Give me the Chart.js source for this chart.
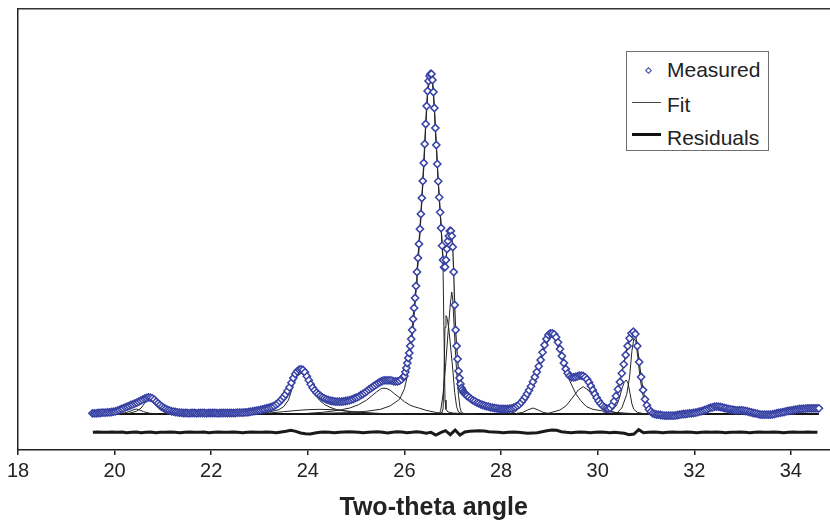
<!DOCTYPE html>
<html>
<head>
<meta charset="utf-8">
<script src="https://cdn.jsdelivr.net/npm/chart.js@4/dist/chart.umd.min.js"></script>
<style>
    body { margin: 0; background: #fff; }
    #wrap { position: relative; width: 830px; height: 523px; }
    #legend {
        position: absolute; left: 626px; top: 51px; width: 141px; height: 98px;
        border: 1px solid #6e6e6e; background: #fff;
        font-family: "Liberation Sans", Arial, sans-serif; font-size: 21px; color: #222;
    }
    #legend span { position: absolute; left: 40px; line-height: 24px; white-space: nowrap; }
    #legend .diamond {
        position: absolute; left: 19px; top: 16px; width: 3px; height: 3px;
        border: 1.2px solid #3a43a6; transform: rotate(45deg);
    }
    #legend .line { position: absolute; left: 5px; width: 29px; }
</style>
</head>
<body>
<div id="wrap">
    <canvas id="chart" width="830" height="523"></canvas>
    <div id="legend">
        <div class="diamond"></div><span style="top:6px">Measured</span>
        <div class="line" style="top:50px;height:1px;background:#444"></div><span style="top:41px">Fit</span>
        <div class="line" style="top:81px;height:3px;background:#111"></div><span style="top:74px">Residuals</span>
    </div>
</div>
<script>
document.addEventListener("DOMContentLoaded", () => {
    // Tick labels on the two-theta axis
    const xTicks = [18, 20, 22, 24, 26, 28, 30, 32, 34];

    // Measured intensity (arbitrary units)
    // 19.54 - 25.98, every 0.04 deg
    const measuredLow = [
        2, 2, 2, 3, 3, 4, 4, 4, 5, 5,
        6, 7, 8, 10, 12, 15, 17, 20, 22, 24,
        27, 29, 32, 34, 37, 40, 43, 46, 48, 50,
        49, 47, 43, 37, 32, 27, 22, 18, 15, 12,
        10, 8, 7, 6, 5, 4, 4, 3, 3, 3,
        2, 3, 3, 3, 2, 3, 3, 3, 3, 2,
        3, 3, 3, 3, 3, 2, 3, 3, 3, 3,
        3, 3, 3, 3, 3, 4, 4, 4, 4, 5,
        5, 6, 7, 8, 9, 10, 11, 12, 14, 15,
        17, 18, 20, 22, 24, 28, 32, 38, 44, 51,
        59, 69, 80, 94, 108, 120, 128, 133, 134, 132,
        125, 113, 101, 89, 79, 71, 64, 59, 54, 50,
        47, 44, 42, 40, 39, 38, 37, 37, 37, 37,
        38, 39, 40, 41, 43, 45, 48, 50, 53, 57,
        60, 64, 68, 73, 77, 81, 85, 89, 93, 96,
        99, 101, 101, 101, 101, 100, 98, 98, 98, 100,
        104, 111
    ];
    // 26.00 - 27.30, every 0.02 deg (main peak and doublet)
    const measuredPeak = [
        114, 126, 138, 153, 168, 183, 204, 225, 252, 285,
        318, 348, 384, 426, 468, 510, 555, 600, 648, 699,
        753, 810, 870, 924, 969, 999, 1014, 1020, 1020, 1002,
        966, 918, 858, 807, 750, 698, 650, 605, 558, 505,
        462, 440, 441, 462, 495, 519, 534, 549, 549, 534,
        501, 426, 327, 252, 204, 165, 129, 108, 90, 78,
        72, 66, 63, 60, 57, 54
    ];
    // 27.34 - 34.58, every 0.04 deg
    const measuredHigh = [
        50, 45, 41, 38, 34, 32, 29, 27, 25, 23,
        22, 20, 19, 18, 17, 16, 15, 15, 15, 15,
        15, 16, 17, 19, 21, 25, 29, 35, 43, 51,
        61, 71, 83, 97, 111, 126, 143, 162, 185, 207,
        225, 237, 242, 242, 239, 230, 215, 195, 174, 153,
        135, 122, 114, 110, 110, 111, 113, 115, 115, 114,
        110, 104, 95, 84, 72, 60, 49, 39, 31, 25,
        20, 17, 16, 18, 26, 38, 54, 74, 96, 122,
        149, 177, 204, 227, 242, 247, 240, 204, 156, 111,
        72, 44, 26, 14, 7, 2, 0, -2, -2, -3,
        -4, -5, -5, -5, -5, -5, -5, -4, -3, -2,
        -1, 0, 0, 1, 2, 2, 3, 4, 5, 7,
        8, 10, 12, 14, 17, 19, 20, 22, 22, 22,
        21, 20, 18, 17, 15, 14, 13, 12, 11, 11,
        11, 11, 10, 9, 8, 6, 5, 3, 2, 1,
        -1, -2, -2, -2, -2, -2, -2, -1, 0, 2,
        3, 4, 5, 6, 8, 9, 10, 11, 12, 13,
        14, 15, 15, 16, 16, 17, 17, 17, 17, 17,
        17, 17
    ];

    // Residuals, 19.55 - 34.55, every 0.1 deg
    const residuals = [
        -55, -54, -55, -55, -54, -55, -54, -56, -55, -54,
        -56, -55, -54, -56, -55, -55, -54, -55, -56, -55,
        -54, -55, -55, -54, -56, -55, -54, -55, -55, -54,
        -55, -56, -55, -54, -55, -55, -54, -55, -56, -54,
        -52, -49, -52, -57, -59, -60, -57, -55, -54, -55,
        -56, -55, -54, -53, -54, -55, -56, -55, -54, -53,
        -55, -57, -55, -53, -54, -56, -55, -53, -55, -58,
        -55, -63, -56, -50, -62, -48, -63, -54, -52, -51,
        -50, -51, -53, -54, -55, -56, -55, -54, -55, -56,
        -58, -57, -56, -53, -50, -48, -49, -53, -55, -56,
        -55, -54, -55, -56, -55, -54, -55, -56, -55, -56,
        -58, -62, -60, -47, -56, -55, -54, -55, -56, -55,
        -54, -55, -55, -54, -55, -56, -55, -54, -55, -54,
        -55, -56, -55, -55, -54, -55, -56, -55, -54, -55,
        -55, -54, -55, -56, -55, -54, -55, -55, -54, -55,
        -55
    ];

    // Fitted peak components as [two-theta, intensity]
    const fitBaseline = [[19.54, 0], [34.58, 0]];
    const peak2045 = [[20.1, 1], [20.2, 3], [20.3, 7], [20.4, 13], [20.45, 15], [20.5, 13], [20.6, 7], [20.7, 3], [20.8, 1], [20.9, 0]];
    const peak2072 = [[20.3, 2], [20.45, 8], [20.55, 18], [20.62, 32], [20.68, 42], [20.72, 44], [20.77, 40], [20.85, 26], [20.95, 12], [21.05, 5], [21.2, 1], [21.4, 0]];
    const peak2387 = [[23.0, 3], [23.2, 6], [23.4, 13], [23.5, 22], [23.6, 42], [23.7, 88], [23.78, 114], [23.87, 122], [23.95, 110], [24.05, 82], [24.15, 58], [24.25, 40], [24.35, 28], [24.46, 20], [24.6, 13], [24.87, 7], [25.1, 4], [25.4, 2], [25.8, 0]];
    const peak2425 = [[22.9, 1], [23.2, 3], [23.5, 7], [23.8, 11], [24.0, 13], [24.25, 14], [24.5, 13], [24.8, 9], [25.1, 5], [25.4, 2], [25.7, 1], [26.0, 0]];
    const peak2553 = [[24.0, 2], [24.3, 5], [24.52, 9], [24.7, 13], [24.87, 18], [25.05, 28], [25.22, 42], [25.32, 54], [25.42, 66], [25.53, 77], [25.62, 77], [25.7, 72], [25.8, 60], [25.91, 48], [26.0, 37], [26.11, 27], [26.2, 22], [26.32, 17], [26.45, 11], [26.67, 4], [26.9, 1], [27.1, 0]];
    const peak2655 = [[24.3, 2], [24.8, 4], [25.2, 8], [25.5, 14], [25.7, 24], [25.9, 44], [26.0, 76], [26.05, 108], [26.1, 152], [26.15, 215], [26.2, 294], [26.25, 388], [26.3, 490], [26.35, 610], [26.4, 738], [26.44, 858], [26.48, 958], [26.52, 1004], [26.55, 1012], [26.58, 994], [26.62, 912], [26.66, 802], [26.7, 694], [26.73, 630], [26.75, 585], [26.77, 535], [26.79, 485], [26.8, 430], [26.82, 230], [26.84, 42], [26.86, 14], [26.9, 6], [27.0, 3], [27.2, 1], [27.5, 0]];
    const peak2687 = [[26.76, 0], [26.8, 15], [26.82, 120], [26.84, 260], [26.86, 295], [26.88, 290], [26.92, 255], [26.96, 195], [27.0, 135], [27.04, 65], [27.08, 22], [27.12, 6], [27.2, 0]];
    const peak2698 = [[26.72, 0], [26.75, 10], [26.8, 60], [26.85, 140], [26.9, 240], [26.95, 330], [26.98, 366], [27.0, 345], [27.03, 260], [27.06, 175], [27.08, 130], [27.12, 55], [27.15, 20], [27.18, 5], [27.25, 0]];
    const peak2866 = [[28.3, 1], [28.45, 5], [28.55, 12], [28.66, 18], [28.77, 12], [28.87, 5], [29.0, 1], [29.1, 0]];
    const peak2905 = [[28.2, 2], [28.3, 7], [28.5, 40], [28.6, 62], [28.7, 95], [28.8, 148], [28.9, 198], [29.0, 226], [29.05, 230], [29.1, 226], [29.2, 195], [29.3, 150], [29.43, 97], [29.55, 60], [29.65, 40], [29.77, 22], [29.9, 14], [30.19, 7], [30.5, 3], [30.8, 1], [31.0, 0]];
    const peak2970 = [[28.9, 1], [29.0, 3], [29.22, 12], [29.35, 25], [29.49, 51], [29.6, 72], [29.7, 82], [29.8, 72], [29.9, 56], [29.98, 42], [30.1, 22], [30.19, 12], [30.35, 5], [30.6, 1], [30.8, 0]];
    const peak3059 = [[30.1, 2], [30.2, 5], [30.3, 12], [30.39, 25], [30.45, 48], [30.5, 75], [30.55, 95], [30.59, 102], [30.63, 92], [30.67, 62], [30.71, 30], [30.75, 14], [30.82, 5], [30.95, 1], [31.1, 0]];
    const peak3075 = [[30.4, 3], [30.5, 18], [30.6, 58], [30.66, 110], [30.71, 190], [30.75, 226], [30.79, 218], [30.83, 172], [30.88, 105], [30.94, 55], [31.0, 20], [31.06, 6], [31.12, 0]];
    const peak3245 = [[31.8, 1], [32.0, 4], [32.15, 9], [32.3, 16], [32.45, 20], [32.6, 17], [32.75, 10], [32.9, 6], [33.05, 4], [33.2, 2], [33.4, 0]];
    const peak3300 = [[32.7, 1], [32.85, 4], [33.0, 6], [33.15, 4], [33.3, 1], [33.45, 0]];
    const peak3440 = [[33.7, 1], [33.9, 5], [34.1, 10], [34.3, 15], [34.45, 17], [34.58, 17]];

    const components = [peak2045, peak2072, peak2387, peak2425, peak2553, peak2655, peak2687,
        peak2698, peak2866, peak2905, peak2970, peak3059, peak3075, peak3245, peak3300, peak3440];

    // Turn an evenly spaced run of values into points
    function onGrid(values, start, step) {
        return values.map((v, i) => ({ x: +(start + i * step).toFixed(2), y: v }));
    }
    const pairs = list => list.map(p => ({ x: p[0], y: p[1] }));

    const measured = [
        ...onGrid(measuredLow, 19.54, 0.04),
        ...onGrid(measuredPeak, 26.00, 0.02),
        ...onGrid(measuredHigh, 27.34, 0.04)
    ];

    const fitLine = data => ({
        data: data, showLine: true, pointRadius: 0,
        borderColor: "#262626", borderWidth: 1
    });

    const datasets = [
        {
            label: "Measured", data: measured, showLine: false,
            pointStyle: "rectRot", pointRadius: 3.6,
            borderColor: "#3640a4", backgroundColor: "#ffffff", pointBorderWidth: 1.5
        },
        { ...fitLine(measured), label: "Fit", borderWidth: 1.2 },
        ...components.map(c => fitLine(pairs(c))),
        { ...fitLine(pairs(fitBaseline)), borderColor: "#151515", borderWidth: 2.2 },
        {
            label: "Residuals", data: onGrid(residuals, 19.55, 0.1), showLine: true,
            pointRadius: 0, borderColor: "#1a1a1a", borderWidth: 3
        }
    ];

    Chart.defaults.font.family = "'Liberation Sans', Arial, sans-serif";
    Chart.defaults.color = "#222";

    new Chart(document.getElementById("chart").getContext("2d"), {
        type: "scatter",
        data: { datasets: datasets },
        options: {
            responsive: false,
            animation: false,
            events: [],
            layout: { padding: 0, autoPadding: false },
            plugins: { legend: { display: false }, tooltip: { enabled: false } },
            scales: {
                x: {
                    type: "linear", position: "bottom", min: 18, max: 34.81,
                    afterBuildTicks: s => { s.ticks = xTicks.map(v => ({ value: v })); },
                    afterFit: s => { s.height = 73; },
                    ticks: { font: { size: 20 }, color: "#222", padding: 4, maxRotation: 0, autoSkip: false },
                    grid: { display: true, drawOnChartArea: false, drawTicks: true, tickLength: 5, color: "#222", lineWidth: 1.5 },
                    border: { display: true, color: "#222", width: 1.5 },
                    title: {
                        display: true, text: "\u2002 Two-theta angle", color: "#222",
                        font: { size: 25, weight: "bold" }, padding: { top: 0, bottom: 0 }
                    }
                },
                xTop: {
                    type: "linear", position: "top", min: 18, max: 34.81,
                    afterFit: s => { s.height = 9; },
                    ticks: { display: false },
                    grid: { display: false, drawTicks: false },
                    border: { display: true, color: "#333", width: 1.5 }
                },
                y: {
                    type: "linear", min: -108, max: 1215,
                    afterFit: s => { s.width = 18; },
                    ticks: { display: false },
                    grid: { display: false, drawTicks: false },
                    border: { display: true, color: "#222", width: 1.5 }
                }
            }
        }
    });
});
</script>
</body>
</html>
